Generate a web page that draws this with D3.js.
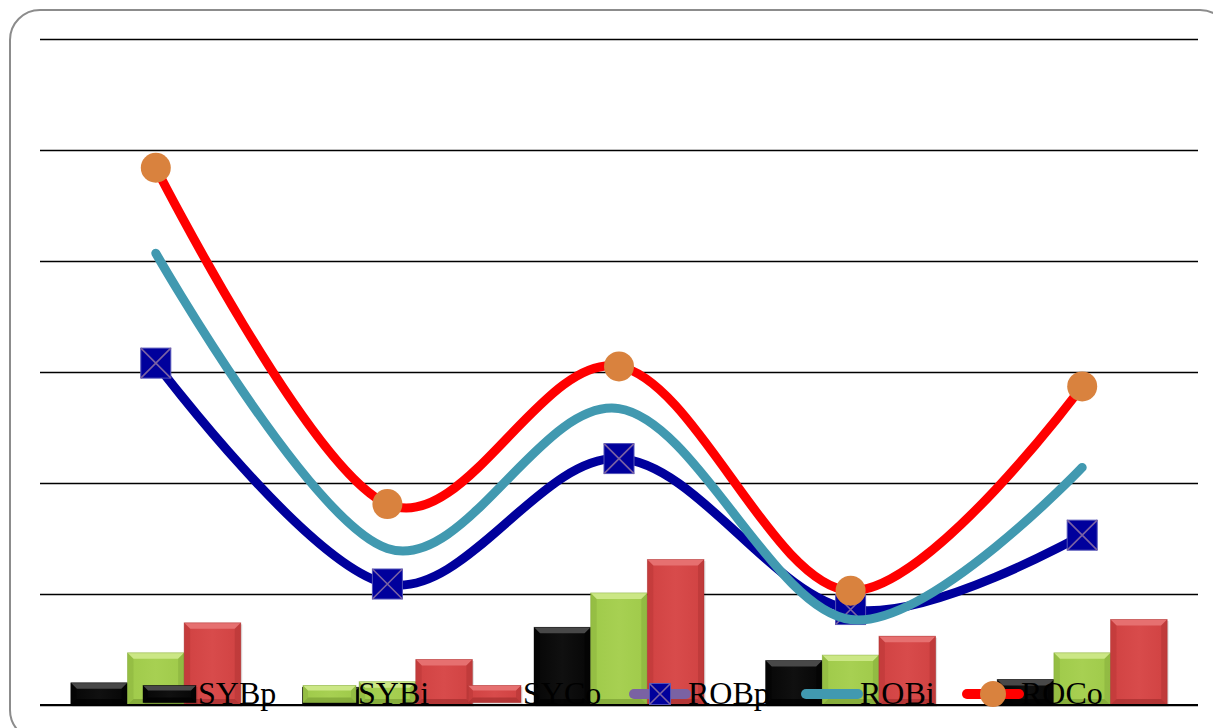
<!DOCTYPE html>
<html>
<head>
<meta charset="utf-8">
<script src="https://cdn.jsdelivr.net/npm/d3@7"></script>
<style>
  html, body { margin: 0; padding: 0; background: #fff; overflow: hidden; }
  svg { display: block; }
</style>
</head>
<body>
<svg id="chart" width="1213" height="728"></svg>
<script>
// Category slots along the x axis
const categories = ["1", "2", "3", "4", "5"];

// Bar series
const barSeries = ["SYBp", "SYBi", "SYCo"];
const SYBp = [0.20, 0.16, 0.70, 0.40, 0.23];
const SYBi = [0.47, 0.21, 1.01, 0.45, 0.47];
const SYCo = [0.74, 0.41, 1.31, 0.62, 0.77];

// Smoothed line series
const lineSeries = ["ROBp", "ROBi", "ROCo"];
const ROBp = [3.08, 1.09, 2.22, 0.86, 1.53];
const ROBi = [4.07, 1.41, 2.67, 0.77, 2.14];
const ROCo = [4.84, 1.81, 3.05, 1.03, 2.87];

// Value gridlines
const gridTicks = [0, 1, 2, 3, 4, 5, 6];

const barValues = { SYBp, SYBi, SYCo };
const lineValues = { ROBp, ROBi, ROCo };

const barStyle = {
  SYBp: { base: "#060606", light: "#484848", mid: "#101010", dark: "#000000" },
  SYBi: { base: "#9fca4a", light: "#cbe785", mid: "#a7d052", dark: "#7ea336" },
  SYCo: { base: "#d04242", light: "#e67070", mid: "#d84b4b", dark: "#a83030" }
};
const lineStyle = {
  ROBp: { color: "#00009c", legend: "#7a62a3", marker: "square" },
  ROBi: { color: "#4199b0", legend: "#4199b0", marker: null },
  ROCo: { color: "#ff0000", legend: "#ff0000", marker: "circle" }
};

const svg = d3.select("#chart");
const defs = svg.append("defs");

// Outer rounded frame
svg.append("rect")
  .attr("x", 10).attr("y", 10)
  .attr("width", 1220).attr("height", 730)
  .attr("rx", 30).attr("ry", 30)
  .attr("fill", "#fff")
  .attr("stroke", "#8c8c8c").attr("stroke-width", 2);

const plot = { left: 40, right: 1198, top: 39, bottom: 705 };

const x = d3.scaleBand()
  .domain(categories)
  .range([plot.left, plot.right])
  .paddingInner(0.266)
  .paddingOuter(0.133);
const xInner = d3.scaleBand()
  .domain(barSeries)
  .range([0, x.bandwidth()]);
const xPoint = d3.scalePoint()
  .domain(categories)
  .range([plot.left, plot.right])
  .padding(0.5);
const y = d3.scaleLinear()
  .domain([0, 6])
  .range([plot.bottom, plot.top]);

// Horizontal gridlines
const grid = svg.append("g")
  .attr("transform", `translate(${plot.left},0)`)
  .call(d3.axisLeft(y).tickValues(gridTicks).tickSize(-(plot.right - plot.left)).tickFormat(""));
grid.select(".domain").remove();
grid.selectAll(".tick line").attr("stroke", "#000").attr("stroke-width", 1.6);

// Gradients for the bevelled bars
Object.entries(barStyle).forEach(([k, s]) => {
  const g = defs.append("linearGradient").attr("id", "grad-" + k)
    .attr("x1", 0).attr("y1", 0).attr("x2", 1).attr("y2", 0);
  g.append("stop").attr("offset", "0%").attr("stop-color", s.base);
  g.append("stop").attr("offset", "50%").attr("stop-color", s.mid);
  g.append("stop").attr("offset", "100%").attr("stop-color", s.base);
});

function bevelBar(sel, k, x0, y0, w, h, b) {
  const s = barStyle[k];
  b = Math.max(0, Math.min(b, h / 2, w / 2));
  const g = sel.append("g");
  g.append("rect").attr("x", x0 + 1.5).attr("y", y0 + 1.5).attr("width", w).attr("height", h)
    .attr("fill", "#000").attr("opacity", 0.12);
  g.append("rect").attr("x", x0).attr("y", y0).attr("width", w).attr("height", h)
    .attr("fill", `url(#grad-${k})`);
  // top bevel
  g.append("path")
    .attr("d", `M${x0},${y0}L${x0 + w},${y0}L${x0 + w - b},${y0 + b}L${x0 + b},${y0 + b}Z`)
    .attr("fill", s.light);
  // bottom bevel
  g.append("path")
    .attr("d", `M${x0},${y0 + h}L${x0 + w},${y0 + h}L${x0 + w - b},${y0 + h - b}L${x0 + b},${y0 + h - b}Z`)
    .attr("fill", s.dark).attr("opacity", 0.75);
  // side bevels
  g.append("path")
    .attr("d", `M${x0},${y0}L${x0 + b},${y0 + b}L${x0 + b},${y0 + h - b}L${x0},${y0 + h}Z`)
    .attr("fill", s.dark).attr("opacity", 0.3);
  g.append("path")
    .attr("d", `M${x0 + w},${y0}L${x0 + w - b},${y0 + b}L${x0 + w - b},${y0 + h - b}L${x0 + w},${y0 + h}Z`)
    .attr("fill", s.dark).attr("opacity", 0.4);
  g.append("rect").attr("x", x0).attr("y", y0).attr("width", w).attr("height", h)
    .attr("fill", "none").attr("stroke", s.dark).attr("stroke-opacity", 0.5).attr("stroke-width", 0.8);
}

// Bars
const barsG = svg.append("g");
categories.forEach((c, i) => {
  barSeries.forEach(k => {
    const v = barValues[k][i];
    const x0 = x(c) + xInner(k);
    const y0 = y(v);
    bevelBar(barsG, k, x0, y0, xInner.bandwidth(), y(0) - y0, 6);
  });
});

// Baseline
svg.append("line")
  .attr("x1", plot.left).attr("x2", plot.right)
  .attr("y1", y(0)).attr("y2", y(0))
  .attr("stroke", "#000").attr("stroke-width", 2);

function drawSquareMarker(sel, cx, cy, size) {
  const h = size / 2;
  sel.append("rect").attr("x", cx - h).attr("y", cy - h).attr("width", size).attr("height", size)
    .attr("fill", "#00009c").attr("stroke", "#5252b8").attr("stroke-width", 1);
  sel.append("path")
    .attr("d", `M${cx - h},${cy - h}L${cx + h},${cy + h}M${cx + h},${cy - h}L${cx - h},${cy + h}`)
    .attr("stroke", "#7a62a3").attr("stroke-width", 1.6);
}
function drawCircleMarker(sel, cx, cy, r) {
  sel.append("circle").attr("cx", cx).attr("cy", cy).attr("r", r)
    .attr("fill", "#d9823e");
}

// Smoothed lines with markers
const line = d3.line()
  .x((d, i) => xPoint(categories[i]))
  .y(d => y(d))
  .curve(d3.curveCardinal.tension(0));

const linesG = svg.append("g");
lineSeries.forEach(k => {
  const st = lineStyle[k];
  const g = linesG.append("g");
  g.append("path")
    .datum(lineValues[k])
    .attr("d", line)
    .attr("fill", "none")
    .attr("stroke", st.color)
    .attr("stroke-width", 9)
    .attr("stroke-linecap", "round")
    .attr("stroke-linejoin", "round");
  lineValues[k].forEach((v, i) => {
    const cx = xPoint(categories[i]), cy = y(v);
    if (st.marker === "square") drawSquareMarker(g, cx, cy, 30);
    if (st.marker === "circle") drawCircleMarker(g, cx, cy, 15);
  });
});

// Legend
const legend = svg.append("g");
const legendY = 694;
const legendX = { SYBp: 143, SYBi: 303, SYCo: 468, ROBp: 630, ROBi: 802, ROCo: 963 };
const legendFont = "'Liberation Serif', 'Times New Roman', serif";

barSeries.forEach(k => {
  const x0 = legendX[k];
  bevelBar(legend, k, x0, legendY - 8.5, 53, 17, 5);
  legend.append("text")
    .attr("x", x0 + 55).attr("y", legendY + 10)
    .attr("font-family", legendFont).attr("font-size", 32)
    .attr("fill", "#000").text(k);
});
lineSeries.forEach(k => {
  const st = lineStyle[k];
  const x0 = legendX[k];
  legend.append("line")
    .attr("x1", x0 + 4).attr("x2", x0 + 56)
    .attr("y1", legendY).attr("y2", legendY)
    .attr("stroke", st.legend).attr("stroke-width", 10)
    .attr("stroke-linecap", "round");
  if (st.marker === "square") drawSquareMarker(legend, x0 + 30, legendY, 21);
  if (st.marker === "circle") drawCircleMarker(legend, x0 + 30, legendY, 13);
  legend.append("text")
    .attr("x", x0 + 58).attr("y", legendY + 10)
    .attr("font-family", legendFont).attr("font-size", 32)
    .attr("fill", "#000").text(k);
});
</script>
</body>
</html>
